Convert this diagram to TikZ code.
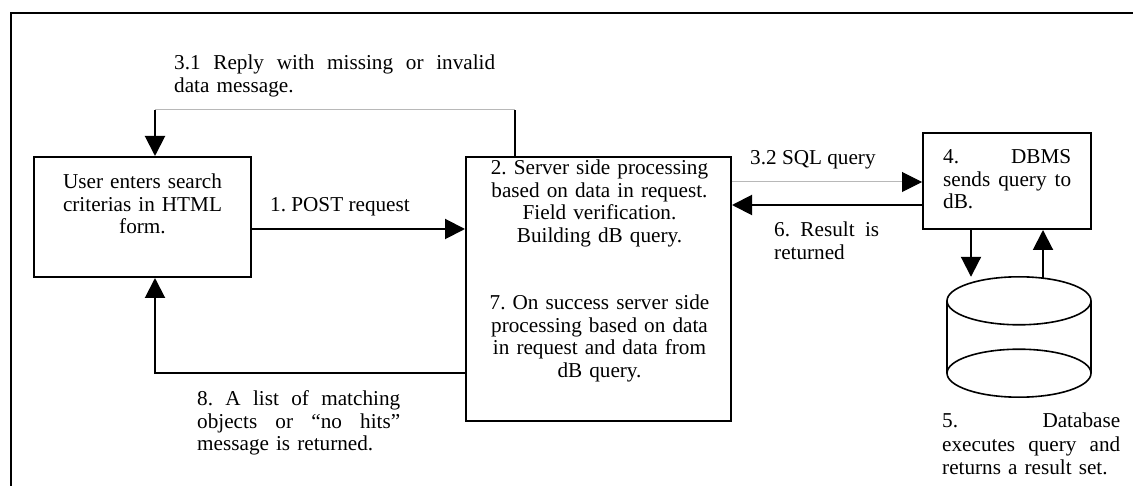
\documentclass[tikz,border=0pt]{standalone}
\usepackage{fontspec}
\setmainfont{Liberation Serif}
\usetikzlibrary{arrows.meta,calc}
% a line of the given width whose interword spaces stretch evenly to fill it
\newcommand{\spreadline}[2]{\leavevmode\hbox to #1{\spaceskip=0.25em plus 1fil\relax #2}}
\tikzset{
  heavy/.style={line width=2pt, draw=black},
  faint/.style={line width=1pt, draw=black!28},
  arrowed/.style={-{Triangle[length=20pt,width=20pt,color=black]}},
  box/.style={heavy, rectangle, inner sep=0pt},
  txt/.style={inner sep=0pt, font=\fontsize{21.2}{22.5}\selectfont\frenchspacing},
  para/.style={txt, anchor=base west},
}
\begin{document}
\begin{tikzpicture}[x=1pt,y=-1pt]
\useasboundingbox (0,0) rectangle (1133,486);

% outer frame
\draw[heavy] (11,500) -- (11,13) -- (1150,13);

% boxes
\node[box, minimum width=217pt, minimum height=120pt] (user) at (142.5,217) {};
\node[box, minimum width=265pt, minimum height=264pt] (server) at (598.5,289) {};
\node[box, minimum width=168pt, minimum height=96pt] (dbms) at (1007,181) {};
\node[inner sep=0pt, minimum width=144pt, minimum height=120pt] (db) at (1019,337) {};

% database cylinder
\draw[line width=1.6pt] ($(db.north)+(0,24)$) ellipse [x radius=72pt, y radius=24pt];
\draw[line width=1.6pt] ($(db.south)+(0,-24)$) ellipse [x radius=72pt, y radius=24pt];
\draw[line width=1.6pt] ($(db.north west)+(0,24)$) -- ($(db.south west)+(0,-24)$);
\draw[line width=1.6pt] ($(db.north east)+(0,24)$) -- ($(db.south east)+(0,-24)$);

% texts inside the boxes
\node[txt, anchor=base, text width=210pt, align=center] (usertext) at (142.5,189)
  {User enters search\\ criterias in HTML\\ form.};
\node[txt, anchor=base, text width=250pt, align=center] (servertext) at (599.5,175)
  {2. Server side processing\\ based on data in request.\\ Field verification.\\ Building dB query.\\[45pt]
   7. On success server side\\ processing based on data\\ in request and data from\\ dB query.};
\node[para, text width=128pt] (dbmstext) at (943,164)
  {\spreadline{128pt}{4. DBMS}\\ \spreadline{128pt}{sends query to}\\ dB.};

% connector labels
\node[para, text width=321pt] (l31) at (174,70)
  {\spreadline{321pt}{3.1 Reply with missing or invalid}\\ data message.};
\node[para] (l1) at (270,212) {1. POST request};
\node[para] (l32) at (750,165) {3.2 SQL query};
\node[para, text width=105pt] (l6) at (774,237)
  {\spreadline{105pt}{6. Result is}\\ returned};
\node[para, text width=203pt] (l8) at (197,406)
  {\spreadline{203pt}{8. A list of matching}\\ \spreadline{203pt}{objects or “no hits”}\\ message is returned.};
\node[para, text width=178pt, font=\fontsize{21.2}{23.5}\selectfont\frenchspacing] (l5) at (942,428)
  {\spreadline{178pt}{5. Database}\\ \spreadline{178pt}{executes query and}\\ returns a result set.};

% connector anchors
\coordinate (fbR) at (515,110);
\coordinate (fbL) at (155,110);
\coordinate (post) at (0,229);
\coordinate (sql) at (0,182);
\coordinate (res) at (0,205);
\coordinate (ret) at (155,373);
\coordinate (qdown) at (971,0);
\coordinate (qup) at (1043,0);

% 1. POST request
\draw[heavy, arrowed] (user.east |- post) -- (server.west |- post);
% 3.1 reply with missing or invalid data
\draw[heavy] (server.north -| fbR) -- (fbR);
\draw[faint] (fbR) -- (fbL);
\draw[heavy, arrowed] (fbL) -- (user.north -| fbL);
% 3.2 SQL query
\draw[faint, arrowed] (server.east |- sql) -- (dbms.west |- sql);
% 6. result returned
\draw[heavy, arrowed] (dbms.west |- res) -- (server.east |- res);
% DBMS <-> database
\draw[heavy, arrowed] (dbms.south -| qdown) -- (db.north -| qdown);
\draw[heavy, arrowed] ($(db.north -| qup)+(0,1.5)$) -- (dbms.south -| qup);
% 8. list of matching objects returned
\draw[heavy, arrowed] (server.west |- ret) -- (ret) -- (user.south -| ret);
\end{tikzpicture}
\end{document}
